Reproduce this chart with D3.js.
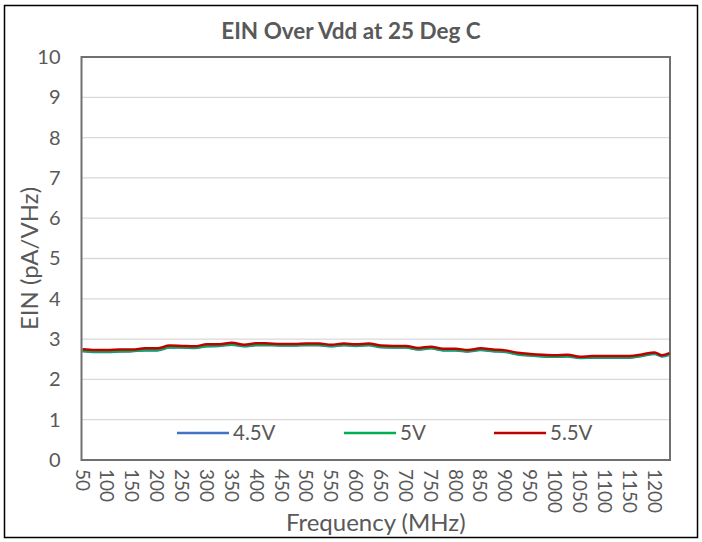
<!DOCTYPE html>
<meta charset="utf-8">
<style>
  body { margin: 0; background: #fff; }
  text { font-family: Lato, "Noto Sans", sans-serif; fill: #595959; }
</style>
<body>
<script src="https://cdn.jsdelivr.net/npm/d3@7"></script>
<script>
// frequency points (MHz)
var freq = [50, 75, 100, 125, 150, 175, 200, 225, 250, 275, 300, 325, 350, 375, 400, 425,
  450, 475, 500, 525, 550, 575, 600, 625, 650, 675, 700, 725, 750, 775, 800, 825, 850,
  875, 900, 925, 950, 975, 1000, 1025, 1050, 1075, 1100, 1125, 1150, 1175, 1200, 1215, 1230];

var v55 = [2.75, 2.73, 2.73, 2.74, 2.74, 2.77, 2.77, 2.84, 2.83, 2.82, 2.87, 2.87, 2.91, 2.86,
  2.90, 2.89, 2.88, 2.88, 2.89, 2.89, 2.86, 2.89, 2.87, 2.89, 2.84, 2.83, 2.83, 2.78, 2.81,
  2.76, 2.76, 2.73, 2.77, 2.74, 2.72, 2.66, 2.63, 2.61, 2.60, 2.61, 2.56, 2.58, 2.58, 2.58,
  2.58, 2.62, 2.67, 2.60, 2.65];
var v50 = [2.71, 2.69, 2.69, 2.70, 2.71, 2.73, 2.73, 2.80, 2.80, 2.79, 2.83, 2.84, 2.87, 2.83,
  2.86, 2.86, 2.85, 2.85, 2.86, 2.86, 2.83, 2.86, 2.84, 2.86, 2.81, 2.80, 2.80, 2.75, 2.78,
  2.73, 2.73, 2.70, 2.74, 2.71, 2.69, 2.63, 2.60, 2.58, 2.57, 2.58, 2.54, 2.55, 2.55, 2.55,
  2.55, 2.59, 2.64, 2.58, 2.62];
var v45 = [2.70, 2.68, 2.68, 2.69, 2.70, 2.72, 2.72, 2.79, 2.79, 2.78, 2.82, 2.83, 2.86, 2.82,
  2.85, 2.85, 2.84, 2.84, 2.85, 2.85, 2.82, 2.85, 2.83, 2.85, 2.80, 2.79, 2.79, 2.74, 2.77,
  2.72, 2.72, 2.69, 2.73, 2.70, 2.68, 2.62, 2.59, 2.57, 2.56, 2.57, 2.53, 2.54, 2.54, 2.54,
  2.54, 2.58, 2.63, 2.57, 2.61];

var seriesNames = ["4.5V", "5V", "5.5V"];
var seriesColors = ["#4472C4", "#00B050", "#C00000"];
var xTicks = d3.range(50, 1201, 50);
var yTicks = d3.range(0, 11, 1);

var width = 702, height = 542;
var pLeft = 81.5, pRight = 670, pTop = 57, pBottom = 460;

var svg = d3.select("body").append("svg")
  .attr("width", width)
  .attr("height", height);

// outer chart border
svg.append("rect")
  .attr("x", 4.5).attr("y", 5.5)
  .attr("width", 693).attr("height", 532)
  .attr("fill", "#fff")
  .attr("stroke", "#000")
  .attr("stroke-width", 1.5);

var x = d3.scaleLinear().domain([47.8, 1231]).range([pLeft, pRight]);
var y = d3.scaleLinear().domain([0, 10]).range([pBottom, pTop]);

// gridlines
svg.append("g")
  .selectAll("line")
  .data(yTicks.slice(1, 10))
  .enter().append("line")
  .attr("x1", pLeft).attr("x2", pRight)
  .attr("y1", function(d) { return y(d); })
  .attr("y2", function(d) { return y(d); })
  .attr("stroke", "#D9D9D9")
  .attr("stroke-width", 1.3);

// plot area border
svg.append("rect")
  .attr("x", pLeft).attr("y", pTop)
  .attr("width", pRight - pLeft).attr("height", pBottom - pTop)
  .attr("fill", "none")
  .attr("stroke", "#707070")
  .attr("stroke-width", 2);

// y tick labels
var yAxis = d3.axisLeft(y).tickValues(yTicks).tickSize(0).tickPadding(21);
svg.append("g")
  .attr("transform", "translate(" + pLeft + ",0)")
  .call(yAxis)
  .call(function(g) { g.select(".domain").remove(); })
  .selectAll("text")
  .style("font-size", "20px")
  .attr("fill", "#595959");

// x tick labels, rotated
var xAxis = d3.axisBottom(x).tickValues(xTicks).tickSize(0).tickFormat(d3.format("d"));
svg.append("g")
  .attr("transform", "translate(0," + pBottom + ")")
  .call(xAxis)
  .call(function(g) { g.select(".domain").remove(); })
  .selectAll("text")
  .style("font-size", "19px")
  .attr("fill", "#595959")
  .attr("text-anchor", "start")
  .attr("dy", null)
  .attr("y", null)
  .attr("dominant-baseline", "central")
  .attr("transform", "translate(0,9) rotate(90)");

// lines
var allSeries = [v45, v50, v55];
var line = d3.line()
  .x(function(d, i) { return x(freq[i]); })
  .y(function(d) { return y(d); })
  .curve(d3.curveMonotoneX);

svg.append("g")
  .selectAll("path")
  .data(allSeries)
  .enter().append("path")
  .attr("d", line)
  .attr("fill", "none")
  .attr("stroke", function(d, i) { return seriesColors[i]; })
  .attr("stroke-width", 2.5)
  .attr("stroke-linejoin", "round");

// legend
var legX = [177, 344, 494];
var leg = svg.append("g")
  .selectAll("g")
  .data(seriesNames)
  .enter().append("g")
  .attr("transform", function(d, i) { return "translate(" + legX[i] + ",433)"; });
leg.append("line")
  .attr("x1", 0).attr("x2", 52)
  .attr("stroke", function(d, i) { return seriesColors[i]; })
  .attr("stroke-width", 2.5);
leg.append("text")
  .attr("x", 56)
  .attr("dy", "0.36em")
  .style("font-size", "20.5px")
  .text(function(d) { return d; });

// titles
svg.append("text")
  .attr("x", width / 2).attr("y", 39)
  .attr("text-anchor", "middle")
  .style("font-size", "22.5px")
  .style("font-weight", "bold")
  .text("EIN Over Vdd at 25 Deg C");

svg.append("text")
  .attr("x", (pLeft + pRight) / 2).attr("y", 531)
  .attr("text-anchor", "middle")
  .style("font-size", "24px")
  .text("Frequency (MHz)");

svg.append("text")
  .attr("transform", "translate(38," + (pTop + pBottom) / 2 + ") rotate(-90)")
  .attr("text-anchor", "middle")
  .style("font-size", "24px")
  .text("EIN (pA/VHz)");
</script>
</body>
